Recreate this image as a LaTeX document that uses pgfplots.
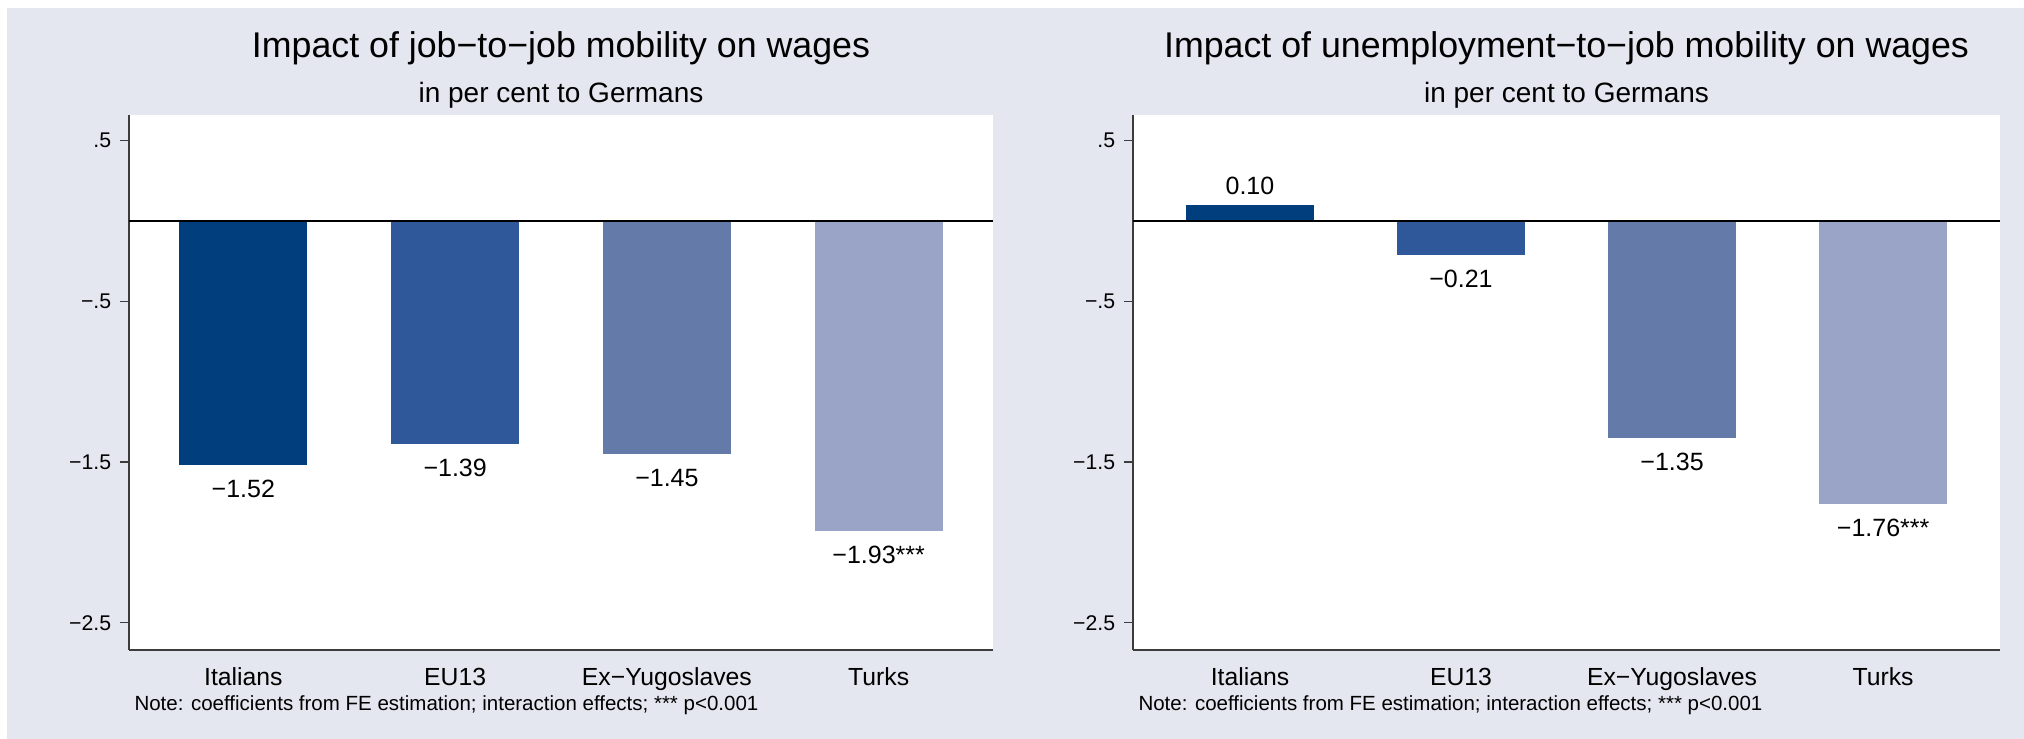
\documentclass[border=0pt]{standalone}
\usepackage{fontspec}
\setmainfont{Liberation Sans}
\usepackage{pgfplots}
\pgfplotsset{compat=1.18}
\definecolor{bgl}{RGB}{228,230,240}
\definecolor{cIta}{RGB}{0,62,126}
\definecolor{cEU}{RGB}{46,88,153}
\definecolor{cYug}{RGB}{100,122,168}
\definecolor{cTur}{RGB}{153,164,198}
\definecolor{axc}{RGB}{60,60,60}
\pgfplotsset{
  panel/.style={
    scale only axis, height=214pt, anchor=south west,
    ymin=-2.67, ymax=0.66,
    ytick={-2.5,-1.5,-0.5,0.5}, yticklabels={−2.5,−1.5,−.5,.5},
    xtick={1,2,3,4}, xticklabels={Italians,EU13,Ex−Yugoslaves,Turks},
    axis lines*=left, axis line style={-, draw=axc, line width=0.8pt},
    tick align=outside, major tick length=3.6pt,
    xtick style={draw=none},
    ytick style={draw=axc, line width=0.5pt},
    yticklabel style={font=\fontsize{8.5}{10}\selectfont},
    xticklabel style={font=\fontsize{9.9}{11}\selectfont, anchor=base, yshift=-10.8pt},
    axis background/.style={fill=white},
    bar width=0.605,
  },
  barp/.style={ybar, bar shift=0pt, fill=#1, draw=none,
    nodes near coords, point meta=explicit symbolic,
    nodes near coords style={font=\fontsize{10}{12}\selectfont, text=black, inner xsep=0pt, inner ysep=5.8pt}},
  barneg/.style={barp=#1, every node near coord/.append style={anchor=north}},
  barpos/.style={barp=#1, every node near coord/.append style={anchor=south, inner ysep=3.8pt}},
}
\begin{document}
\begin{tikzpicture}
\begin{scope}[x=0.4pt,y=0.4pt]
\useasboundingbox (0,0) rectangle (2024,739);
\fill[white] (0,0) rectangle (2024,739);
\fill[bgl] (7,0) rectangle (2024,731);
\node[anchor=base, font=\fontsize{14.3}{16}\selectfont] at (561,681) {Impact of job−to−job mobility on wages};
\node[anchor=base, font=\fontsize{11.2}{14}\selectfont] at (561,636) {in per cent to Germans};
\node[anchor=base, font=\fontsize{14.3}{16}\selectfont] at (1566.5,681) {Impact of unemployment−to−job mobility on wages};
\node[anchor=base, font=\fontsize{11.2}{14}\selectfont] at (1566.5,636) {in per cent to Germans};
\node[anchor=base west, inner sep=0pt, font=\fontsize{8.2}{10}\selectfont] at (134,28) {Note: coefficients from FE estimation; interaction effects; *** p<0.001};
\node[anchor=base west, inner sep=0pt, font=\fontsize{8.2}{10}\selectfont] at (1138,28) {Note: coefficients from FE estimation; interaction effects; *** p<0.001};
\end{scope}

\begin{axis}[panel, at={(51.6pt,35.6pt)}, width=345.6pt, xmin=0.46, xmax=4.54]
\addplot[barneg=cIta] coordinates {(1,-1.52) [−1.52]};
\addplot[barneg=cEU] coordinates {(2,-1.39) [−1.39]};
\addplot[barneg=cYug] coordinates {(3,-1.45) [−1.45]};
\addplot[barneg=cTur] coordinates {(4,-1.93) [−1.93***]};
\addplot[sharp plot, black, line width=1pt, forget plot] coordinates {(0.46,0) (4.54,0)};
\end{axis}

\begin{axis}[panel, at={(453.2pt,35.6pt)}, width=346.8pt, xmin=0.446, xmax=4.554]
\addplot[barpos=cIta] coordinates {(1,0.10) [0.10]};
\addplot[barneg=cEU] coordinates {(2,-0.21) [−0.21]};
\addplot[barneg=cYug] coordinates {(3,-1.35) [−1.35]};
\addplot[barneg=cTur] coordinates {(4,-1.76) [−1.76***]};
\addplot[sharp plot, black, line width=1pt, forget plot] coordinates {(0.446,0) (4.554,0)};
\end{axis}
\end{tikzpicture}
\end{document}
